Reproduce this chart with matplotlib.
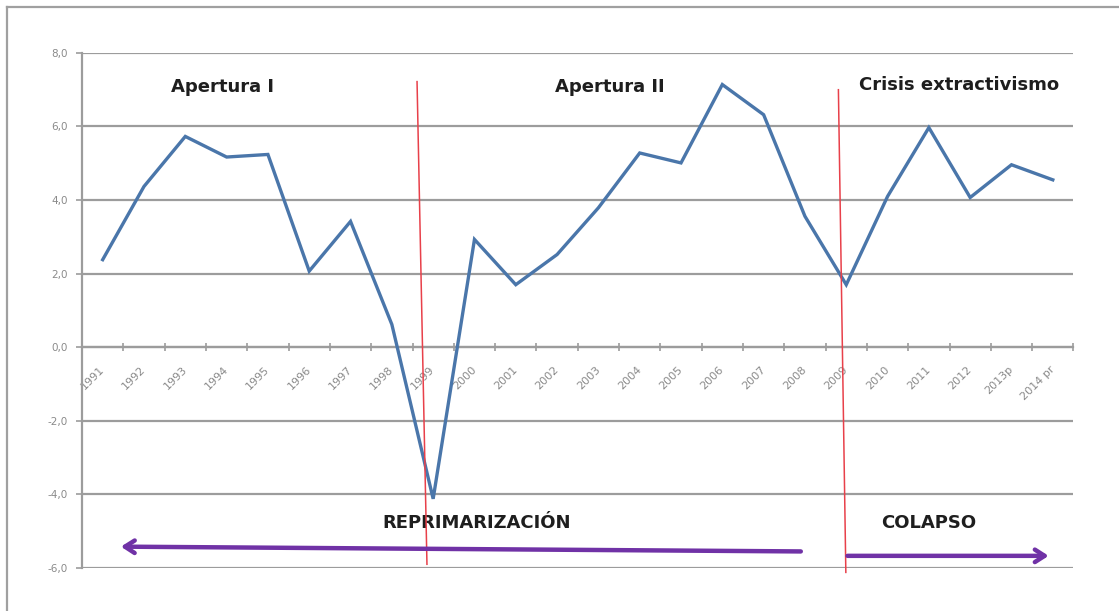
import numpy as np
import matplotlib.pyplot as plt
from matplotlib.lines import Line2D

# tasa de crecimiento anual (%)
years = ['1991', '1992', '1993', '1994', '1995', '1996', '1997', '1998',
         '1999', '2000', '2001', '2002', '2003', '2004', '2005', '2006',
         '2007', '2008', '2009', '2010', '2011', '2012', '2013p', '2014 pr']
growth = [2.38, 4.37, 5.73, 5.17, 5.24, 2.07, 3.42, 0.62,
          -4.12, 2.93, 1.70, 2.52, 3.79, 5.28, 5.01, 7.14,
          6.32, 3.56, 1.70, 4.10, 5.97, 4.07, 4.96, 4.55]
yticks = [-6, -4, -2, 0, 2, 4, 6, 8]

periods = ['Apertura I', 'Apertura II', 'Crisis extractivismo']
phases = ['REPRIMARIZACIÓN', 'COLAPSO']

fig = plt.figure(figsize=(11.19, 6.11), dpi=100)
ax = fig.add_axes([0.0733, 0.0704, 0.886, 0.843])

x = np.arange(len(years))
ax.plot(x, growth, color='#4a76aa', lw=2.4, zorder=4, solid_joinstyle='miter')

ax.set_xlim(-0.5, len(years) - 0.5)
ax.set_ylim(-6, 8)

# eje y
ax.set_yticks(yticks)
ax.set_yticklabels([('%.1f' % v).replace('.', ',') for v in yticks])
ax.yaxis.grid(True, color='#9c9c9c', lw=1.6, zorder=1)
ax.tick_params(axis='y', direction='out', length=4, width=1.2, color='#9c9c9c',
               labelsize=7.5, labelcolor='#8a8a8a', pad=6)
for s in ['top', 'right']:
    ax.spines[s].set_visible(False)
ax.spines['left'].set_color('#9c9c9c')
ax.spines['left'].set_linewidth(1.6)
ax.spines['bottom'].set_position(('data', 0))
ax.spines['bottom'].set_color('#9c9c9c')
ax.spines['bottom'].set_linewidth(1.6)

# eje x: marcas entre categorias, etiquetas en el centro
ax.set_xticks(np.arange(-0.5, len(years), 1))
ax.set_xticklabels([])
ax.tick_params(axis='x', which='major', direction='inout', length=6, width=1.2,
               color='#9c9c9c')
ax.set_xticks(x, minor=True)
ax.set_xticklabels(years, minor=True, rotation=45, ha='right', va='center',
                   rotation_mode='anchor')
ax.tick_params(axis='x', which='minor', length=0, labelsize=8,
               labelcolor='#8a8a8a', pad=15)

# lineas rojas de corte
ax.plot([7.61, 7.85], [7.22, -5.9], color='#e8404a', lw=1.1, zorder=5)
ax.plot([17.81, 17.99], [7.0, -6.12], color='#e8404a', lw=1.1, zorder=5,
        clip_on=False)

# flechas
purple = '#7032a6'
ax.annotate('', xy=(0.44, -5.42), xytext=(16.9, -5.55),
            arrowprops=dict(arrowstyle='->,head_length=0.7,head_width=0.45',
                            color=purple, lw=3.2, shrinkA=0, shrinkB=0), zorder=6)
ax.annotate('', xy=(22.9, -5.67), xytext=(18.03, -5.67),
            arrowprops=dict(arrowstyle='->,head_length=0.7,head_width=0.45',
                            color=purple, lw=3.2, shrinkA=0, shrinkB=0), zorder=6)

# textos
font = dict(family='DejaVu Sans', weight='bold', fontsize=13,
            color='#1e1e1e', ha='center', va='center')
for lab, px, py in zip(periods, [2.91, 12.28, 20.73], [7.08, 7.08, 7.14]):
    ax.text(px, py, lab, **font)
for lab, px in zip(phases, [9.06, 20.0]):
    ax.text(px, -4.77, lab, **font)

# borde de la captura
fig.add_artist(Line2D([6.5 / 1119, 6.5 / 1119], [0, 1 - 6.5 / 611],
                      color='#a0a0a0', lw=1.6))
fig.add_artist(Line2D([6.5 / 1119, 1], [1 - 6.5 / 611, 1 - 6.5 / 611],
                      color='#a0a0a0', lw=1.6))

plt.savefig('out.png', dpi=100)
